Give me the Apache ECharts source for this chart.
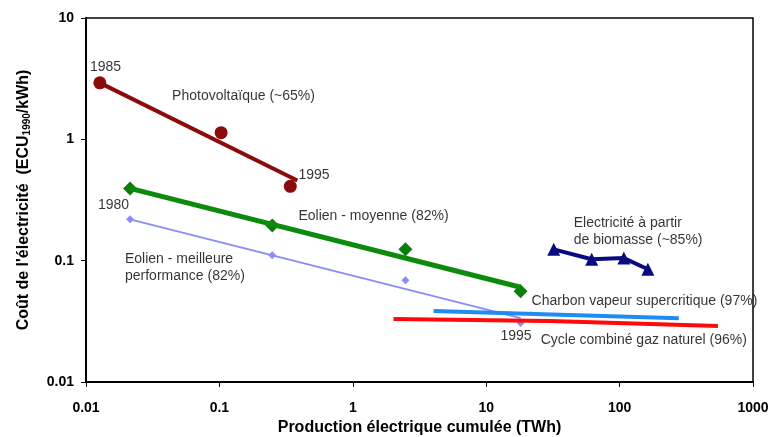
<!DOCTYPE html>
<html>
<head>
<meta charset="utf-8">
<script src="https://cdn.jsdelivr.net/npm/echarts@6/dist/echarts.min.js"></script>
<style>
  html, body { margin: 0; padding: 0; background: #fff; }
  #chart { width: 769px; height: 437px; }
</style>
</head>
<body>
<div id="chart"></div>
<script>
// valeurs (x en TWh, y en ECU1990/kWh)
const pvPoints = [[0.0127, 2.92], [0.103, 1.135], [0.34, 0.41]];
const pvTrend = [[0.0127, 2.92], [0.384, 0.458]];

const eolMoyPoints = [[0.0214, 0.394], [0.249, 0.195], [2.48, 0.124], [18.1, 0.056]];
const eolMoyTrend = [[0.0214, 0.394], [18.1, 0.0604]];

const eolBestPoints = [[0.0214, 0.219], [0.249, 0.1107], [2.48, 0.069], [18.1, 0.0306]];
const eolBestTrend = [[0.0214, 0.219], [18.1, 0.0336]];

const biomasse = [[32.1, 0.124], [61.8, 0.1027], [107.6, 0.105], [163, 0.085]];
const charbon = [[4.03, 0.0384], [278, 0.0336]];
const gaz = [[2.02, 0.033], [30, 0.0318], [546, 0.0289]];

// annotations : [x, y, texte]
const notes = [
  [0.0107, 3.95, '1985'],
  [0.0442, 2.29, 'Photovoltaïque (~65%)'],
  [0.391, 0.503, '1995'],
  [0.0123, 0.285, '1980'],
  [0.391, 0.2317, 'Eolien - moyenne (82%)'],
  [0.0196, 0.1027, 'Eolien - meilleure'],
  [0.0196, 0.0745, 'performance (82%)'],
  [45.3, 0.203, 'Electricité à partir'],
  [45.3, 0.147, 'de biomasse (~85%)'],
  [21.9, 0.0464, 'Charbon vapeur supercritique (97%)'],
  [12.8, 0.0239, '1995'],
  [25.6, 0.0222, 'Cycle combiné gaz naturel (96%)']
];

const FONT = 'Liberation Sans, Arial, sans-serif';
const fmt = v => String(+Number(v).toPrecision(3));

const chart = echarts.init(document.getElementById('chart'));
chart.setOption({
  animation: false,
  backgroundColor: '#fff',
  grid: {
    left: 86, right: 16, top: 18, bottom: 55,
    outerBoundsMode: 'none', containLabel: false,
    show: true, borderColor: '#000', borderWidth: 1.5
  },
  xAxis: {
    type: 'log', logBase: 10, min: 0.01, max: 1000,
    name: 'Production électrique cumulée (TWh)',
    nameLocation: 'middle', nameGap: 36,
    nameTextStyle: { fontFamily: FONT, fontWeight: 'bold', fontSize: 16, color: '#000' },
    axisLine: { lineStyle: { color: '#000', width: 2 } },
    axisTick: { show: true, length: 5, lineStyle: { color: '#000' } },
    minorTick: { show: false },
    splitLine: { show: false },
    axisLabel: { formatter: fmt, fontFamily: FONT, fontWeight: 'bold', fontSize: 14, color: '#000', margin: 19 }
  },
  yAxis: {
    type: 'log', logBase: 10, min: 0.01, max: 10,
    name: "Coût de l'électricité  (ECU{sub|1990}/kWh)",
    nameLocation: 'middle', nameGap: 54, nameRotate: 90,
    nameTextStyle: {
      fontFamily: FONT, fontWeight: 'bold', fontSize: 16, color: '#000',
      rich: { sub: { fontFamily: FONT, fontWeight: 'bold', fontSize: 10, color: '#000', verticalAlign: 'bottom', padding: [7, 0, 0, 0] } }
    },
    axisLine: { lineStyle: { color: '#000', width: 2 } },
    axisTick: { show: true, length: 5, lineStyle: { color: '#000' } },
    splitLine: { show: false },
    axisLabel: { formatter: fmt, fontFamily: FONT, fontWeight: 'bold', fontSize: 14, color: '#000', margin: 12 }
  },
  series: [
    { type: 'line', data: pvTrend, symbol: 'none', lineStyle: { color: '#8b0a0a', width: 4 } },
    { type: 'scatter', data: pvPoints, symbol: 'circle', symbolSize: 13, itemStyle: { color: '#8b0a0a', opacity: 1 } },
    { type: 'line', data: eolMoyTrend, symbol: 'none', lineStyle: { color: '#0b8a0b', width: 5 } },
    { type: 'scatter', data: eolMoyPoints, symbol: 'diamond', symbolSize: 14, itemStyle: { color: '#0b7d0b', opacity: 1 } },
    { type: 'line', data: eolBestTrend, symbol: 'none', lineStyle: { color: '#8c8cf5', width: 2 } },
    { type: 'scatter', data: eolBestPoints, symbol: 'diamond', symbolSize: 8, itemStyle: { color: '#8c8cf5', opacity: 1 } },
    { type: 'line', data: biomasse, symbol: 'triangle', symbolSize: 13, lineStyle: { color: '#0a0a80', width: 4 }, itemStyle: { color: '#0a0a80' } },
    { type: 'line', data: charbon, symbol: 'none', lineStyle: { color: '#1e8cf0', width: 4 } },
    { type: 'line', data: gaz, symbol: 'none', lineStyle: { color: '#ff0a0a', width: 4 } },
    {
      type: 'scatter', symbolSize: 0, silent: true,
      data: notes.map(n => ({ value: [n[0], n[1]], name: n[2] })),
      label: {
        show: true, position: 'inside', align: 'left', verticalAlign: 'middle',
        formatter: p => p.name,
        fontFamily: FONT, fontSize: 14, color: '#000'
      }
    }
  ]
});
window.addEventListener('resize', function () {
  chart.resize();
});
</script>
</body>
</html>
